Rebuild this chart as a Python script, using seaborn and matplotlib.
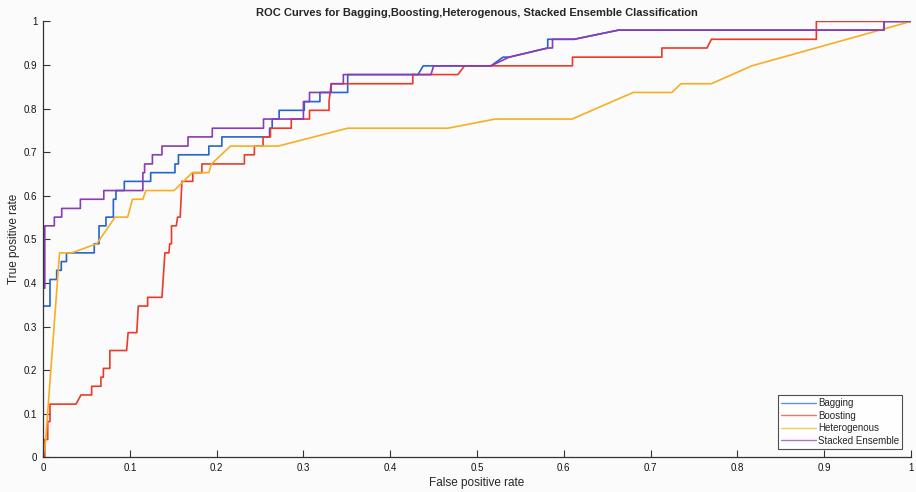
import matplotlib
matplotlib.use("Agg")
import matplotlib.pyplot as plt
import seaborn as sns
import pandas as pd

# ---- data ----
models = ["Bagging", "Boosting", "Heterogenous", "Stacked Ensemble"]

bagging_fpr = [0, 0, 0.008, 0.008, 0.0157, 0.0157, 0.021, 0.021, 0.027, 0.027, 0.059, 0.059,
               0.0645, 0.0645, 0.0725, 0.0725, 0.081, 0.081, 0.084, 0.084, 0.0936, 0.0936,
               0.124, 0.124, 0.152, 0.152, 0.156, 0.156, 0.191, 0.191, 0.206, 0.206, 0.261,
               0.261, 0.264, 0.264, 0.272, 0.272, 0.301, 0.301, 0.319, 0.319, 0.351, 0.351,
               0.432, 0.438, 0.516, 0.530, 0.537, 0.5815, 0.5815, 0.612, 0.663, 0.969, 0.969, 1.0]
bagging_tpr = [0, 0.347, 0.347, 0.408, 0.408, 0.429, 0.429, 0.449, 0.449, 0.469, 0.469, 0.490,
               0.490, 0.531, 0.531, 0.551, 0.551, 0.592, 0.592, 0.612, 0.612, 0.633,
               0.633, 0.653, 0.653, 0.673, 0.673, 0.694, 0.694, 0.714, 0.714, 0.735, 0.735,
               0.755, 0.755, 0.776, 0.776, 0.796, 0.796, 0.816, 0.816, 0.837, 0.837, 0.878,
               0.878, 0.898, 0.898, 0.918, 0.918, 0.939, 0.959, 0.959, 0.980, 0.980, 1.0, 1.0]

boosting_fpr = [0, 0.002, 0.002, 0.0054, 0.0054, 0.008, 0.008, 0.038, 0.0437, 0.056, 0.056,
                0.0667, 0.0667, 0.0695, 0.0695, 0.077, 0.077, 0.0963, 0.098, 0.108, 0.1097,
                0.1205, 0.1205, 0.137, 0.1404, 0.145, 0.146, 0.148, 0.148, 0.1535, 0.155,
                0.158, 0.160, 0.1725, 0.1725, 0.183, 0.183, 0.232, 0.232, 0.2435, 0.2435,
                0.2535, 0.2535, 0.262, 0.262, 0.286, 0.286, 0.307, 0.307, 0.3295, 0.3295,
                0.332, 0.426, 0.426, 0.478, 0.4856, 0.610, 0.610, 0.713, 0.713, 0.765, 0.770,
                0.891, 0.891, 1.0]
boosting_tpr = [0, 0, 0.041, 0.041, 0.082, 0.082, 0.122, 0.122, 0.143, 0.143, 0.163,
                0.163, 0.184, 0.184, 0.204, 0.204, 0.245, 0.245, 0.286, 0.286, 0.347,
                0.347, 0.367, 0.367, 0.469, 0.469, 0.490, 0.490, 0.531, 0.531, 0.551,
                0.551, 0.633, 0.633, 0.653, 0.653, 0.673, 0.673, 0.694, 0.694, 0.714,
                0.714, 0.735, 0.735, 0.755, 0.755, 0.776, 0.776, 0.796, 0.796, 0.816,
                0.857, 0.857, 0.878, 0.878, 0.898, 0.898, 0.918, 0.918, 0.939, 0.939, 0.959,
                0.959, 1.0, 1.0]

hetero_fpr = [0, 0.003, 0.019, 0.033, 0.062, 0.083, 0.0975, 0.103, 0.115, 0.1185, 0.151,
              0.172, 0.191, 0.194, 0.216, 0.271, 0.351, 0.4665, 0.521, 0.6095, 0.680,
              0.7245, 0.735, 0.770, 0.8165, 1.0]
hetero_tpr = [0, 0.04, 0.469, 0.469, 0.490, 0.551, 0.551, 0.592, 0.592, 0.612, 0.612,
              0.653, 0.653, 0.673, 0.714, 0.714, 0.755, 0.755, 0.776, 0.776, 0.837,
              0.837, 0.857, 0.857, 0.898, 1.0]

stacked_fpr = [0, 0, 0.002, 0.002, 0.013, 0.013, 0.0215, 0.0215, 0.043, 0.043, 0.070, 0.070,
               0.115, 0.115, 0.117, 0.117, 0.126, 0.126, 0.137, 0.137, 0.167, 0.167, 0.195,
               0.195, 0.254, 0.254, 0.300, 0.300, 0.307, 0.307, 0.332, 0.332, 0.346, 0.346,
               0.447, 0.450, 0.516, 0.537, 0.5815, 0.587, 0.587, 0.612, 0.663, 0.969, 0.969, 1.0]
stacked_tpr = [0, 0.388, 0.388, 0.531, 0.531, 0.551, 0.551, 0.571, 0.571, 0.592, 0.592, 0.612,
               0.612, 0.653, 0.653, 0.673, 0.673, 0.694, 0.694, 0.714, 0.714, 0.735, 0.735,
               0.755, 0.755, 0.776, 0.776, 0.816, 0.816, 0.837, 0.837, 0.857, 0.857, 0.878,
               0.878, 0.898, 0.898, 0.918, 0.939, 0.939, 0.959, 0.959, 0.980, 0.980, 1.0, 1.0]

tick_values = [0, 0.1, 0.2, 0.3, 0.4, 0.5, 0.6, 0.7, 0.8, 0.9, 1]
tick_labels = ["0", "0.1", "0.2", "0.3", "0.4", "0.5", "0.6", "0.7", "0.8", "0.9", "1"]

# ---- build long table ----
frames = []
for name, xs, ys in [("Bagging", bagging_fpr, bagging_tpr),
                     ("Boosting", boosting_fpr, boosting_tpr),
                     ("Heterogenous", hetero_fpr, hetero_tpr),
                     ("Stacked Ensemble", stacked_fpr, stacked_tpr)]:
    frames.append(pd.DataFrame({"fpr": xs, "tpr": ys, "model": name}))
df = pd.concat(frames, ignore_index=True)

sns.set_style("ticks")
plt.rcParams["font.family"] = ["Liberation Sans", "DejaVu Sans"]

palette = {"Bagging": "#2463d4", "Boosting": "#ec3a2a",
           "Heterogenous": "#f7ae22", "Stacked Ensemble": "#8b3bb5"}

fig = plt.figure(figsize=(9.16, 4.92), dpi=100, facecolor="#fbfbfb")
ax = fig.add_axes([0.047, 0.0705, 0.9475, 0.886])
ax.set_facecolor("#fbfbfb")

sns.lineplot(data=df, x="fpr", y="tpr", hue="model", hue_order=models, palette=palette,
             sort=False, estimator=None, units="model", linewidth=1.2, ax=ax)

ax.set_xlim(0, 1)
ax.set_ylim(0, 1)
ax.set_xticks(tick_values)
ax.set_xticklabels(tick_labels)
ax.set_yticks(tick_values)
ax.set_yticklabels(tick_labels)
ax.tick_params(direction="in", length=5, width=0.8, color="#333333", labelsize=7, pad=4,
               labelcolor="#111111")
sns.despine(ax=ax)
for s in ["left", "bottom"]:
    ax.spines[s].set_color("#333333")
    ax.spines[s].set_linewidth(0.9)

ax.set_xlabel("False positive rate", fontsize=8.5, labelpad=3)
ax.set_ylabel("True positive rate", fontsize=8.5, labelpad=3)
ax.set_title("ROC Curves for Bagging,Boosting,Heterogenous, Stacked Ensemble Classification",
             fontsize=8, fontweight="bold", pad=4)

leg = ax.legend(loc="lower right", fontsize=7, frameon=True, fancybox=False, handlelength=3.6,
                handletextpad=0.2, borderpad=0.3, labelspacing=0.25, borderaxespad=0.9)
leg.get_frame().set_edgecolor("#222222")
leg.get_frame().set_linewidth(0.8)
leg.get_frame().set_facecolor("white")
for line in leg.get_lines():
    line.set_linewidth(1.0)
    line.set_alpha(0.7)

fig.savefig("out.png", dpi=100, facecolor=fig.get_facecolor())
